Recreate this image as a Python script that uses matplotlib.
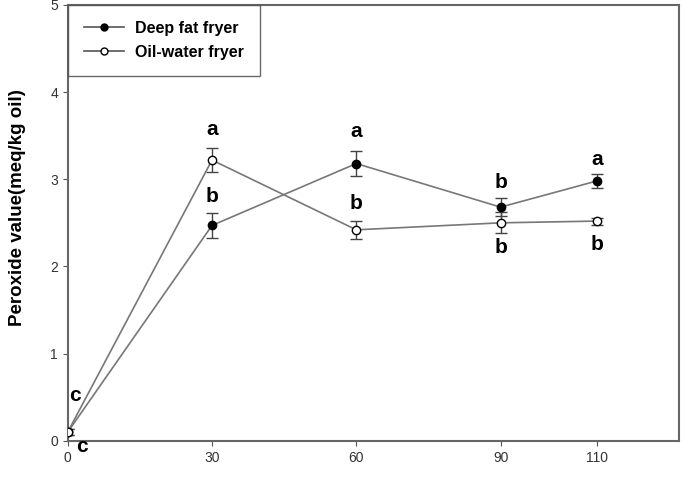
import matplotlib.pyplot as plt
from matplotlib.lines import Line2D

time = [0, 30, 60, 90, 110]
deep_fat = [0.1, 2.47, 3.18, 2.68, 2.98]
deep_fat_err = [0.03, 0.14, 0.14, 0.1, 0.08]
oil_water = [0.1, 3.22, 2.42, 2.5, 2.52]
oil_water_err = [0.03, 0.14, 0.1, 0.12, 0.04]

# significance letters: (x, y, text)
letters = [
    (30, 3.57, "a"), (30, 2.8, "b"),
    (60, 3.55, "a"), (60, 2.72, "b"),
    (90, 2.96, "b"), (90, 2.22, "b"),
    (110, 3.23, "a"), (110, 2.25, "b"),
    (1.5, 0.52, "c"), (3, -0.06, "c"),
]

plt.rcParams["font.family"] = ["Liberation Sans", "DejaVu Sans"]
fig = plt.figure(figsize=(6.84, 4.86), dpi=100)
ax = fig.add_axes([0.099, 0.093, 0.893, 0.897])

ax.errorbar(time, deep_fat, yerr=deep_fat_err, color="#777777", lw=1.2,
            marker="o", ms=6, mfc="black", mec="black", ecolor="#444444",
            elinewidth=1, capsize=4, zorder=3)
ax.errorbar(time, oil_water, yerr=oil_water_err, color="#777777", lw=1.2,
            marker="o", ms=6, mfc="white", mec="black", ecolor="#444444",
            elinewidth=1, capsize=4, zorder=3)

for x, y, t in letters:
    ax.text(x, y, t, ha="center", va="center", fontsize=15, fontweight="bold")

ax.set_xlim(0, 127)
ax.set_ylim(0, 5)
ax.set_xticks(time)
ax.set_yticks([0, 1, 2, 3, 4, 5])
ax.tick_params(direction="out", labelsize=10, labelcolor="#333333", color="#555555")
for s in ax.spines.values():
    s.set_color("#666666")
    s.set_linewidth(1.5)
ax.set_ylabel("Peroxide value(meq/kg oil)", fontsize=13.5, fontweight="bold")
ax.yaxis.set_label_coords(-0.068, 0.535)

handles = [
    Line2D([], [], color="#555555", lw=1.2, marker="o", ms=5, mfc="black", mec="black"),
    Line2D([], [], color="#555555", lw=1.2, marker="o", ms=5, mfc="white", mec="black"),
]
leg = ax.legend(handles, ["Deep fat fryer", "Oil-water fryer"], loc="upper left",
                frameon=True, fancybox=False, borderaxespad=0, handlelength=2.5,
                handletextpad=0.7, labelspacing=0.55, borderpad=1.0,
                prop={"weight": "bold", "size": 11.5})
leg.get_frame().set_edgecolor("#444444")
leg.get_frame().set_linewidth(1)

fig.savefig("out.png", dpi=100)
